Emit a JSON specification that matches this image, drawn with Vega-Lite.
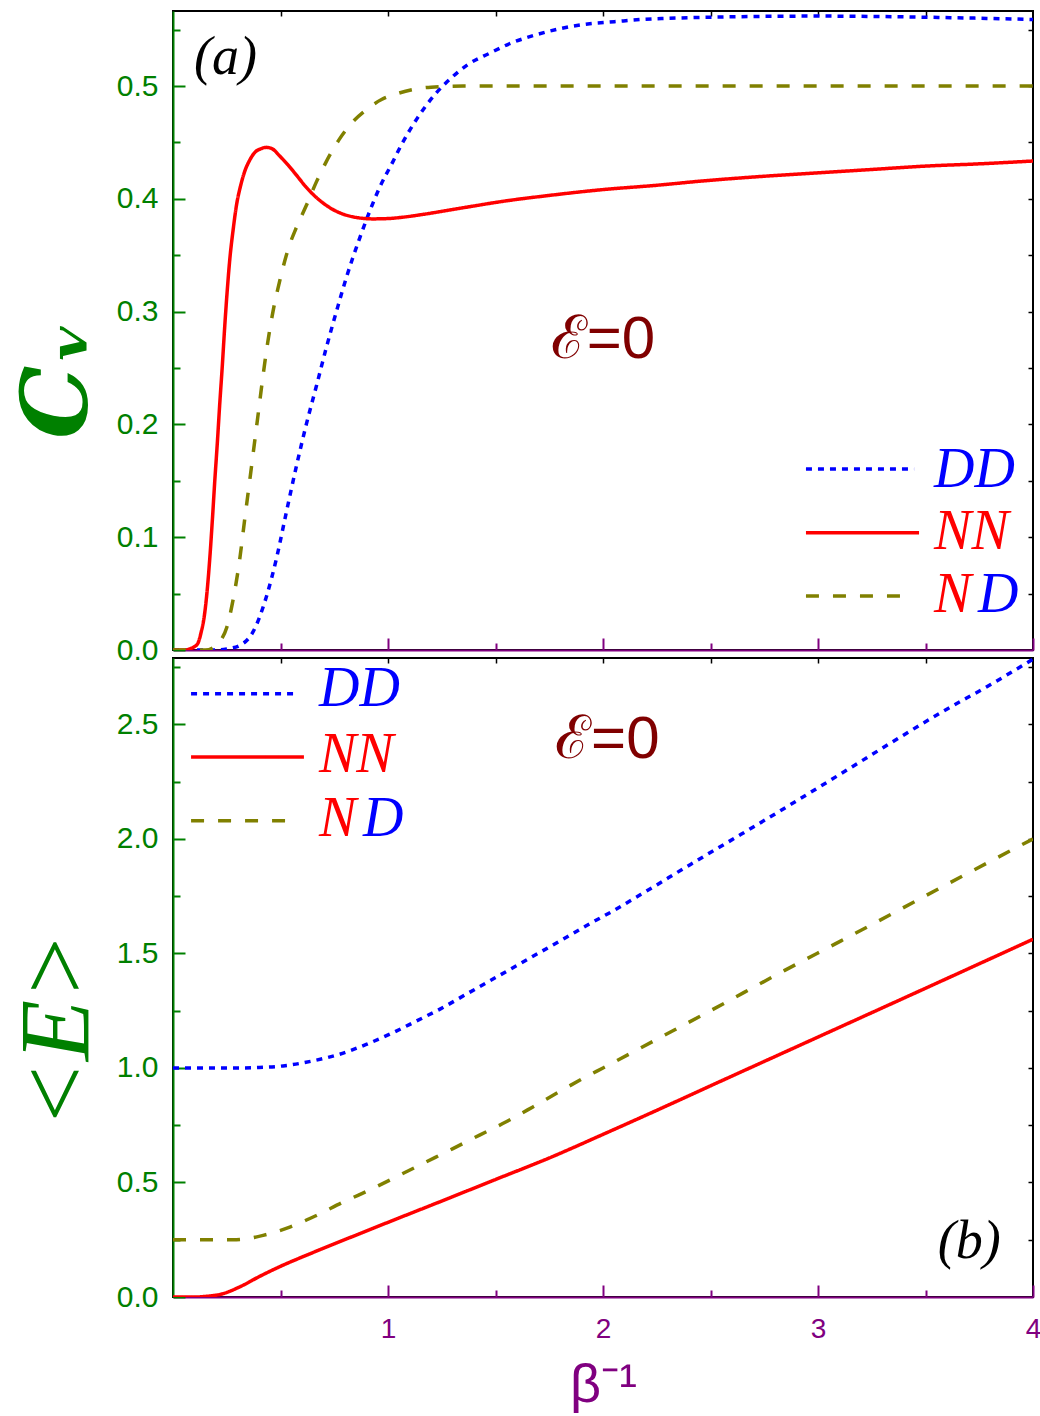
{
"$schema": "https://vega.github.io/schema/vega-lite/v6.json",
"padding": {"left": 6, "top": 9, "right": 8, "bottom": 0},
"spacing": 8,
"bounds": "flush",
"config": {"view": {"stroke": "black", "strokeWidth": 2}, "axis": {"grid": false, "labelFlush": false, "labelOverlap": false, "labelBound": false}},
"datasets": {
"cv": [
{"s":"DD","x":0,"v":0},{"s":"DD","x":0.1,"v":0},{"s":"DD","x":0.2,"v":0},{"s":"DD","x":0.25,"v":0.001},{"s":"DD","x":0.31,"v":0.004},{"s":"DD","x":0.372,"v":0.016},{"s":"DD","x":0.434,"v":0.047},{"s":"DD","x":0.481,"v":0.081},{"s":"DD","x":0.527,"v":0.122},{"s":"DD","x":0.574,"v":0.163},{"s":"DD","x":0.62,"v":0.2},{"s":"DD","x":0.667,"v":0.234},{"s":"DD","x":0.713,"v":0.268},{"s":"DD","x":0.76,"v":0.3},{"s":"DD","x":0.806,"v":0.33},{"s":"DD","x":0.868,"v":0.365},{"s":"DD","x":0.915,"v":0.389},{"s":"DD","x":0.961,"v":0.41},{"s":"DD","x":1.023,"v":0.433},{"s":"DD","x":1.06,"v":0.447},{"s":"DD","x":1.138,"v":0.472},{"s":"DD","x":1.216,"v":0.492},{"s":"DD","x":1.293,"v":0.507},{"s":"DD","x":1.371,"v":0.519},{"s":"DD","x":1.472,"v":0.529},{"s":"DD","x":1.572,"v":0.538},{"s":"DD","x":1.681,"v":0.545},{"s":"DD","x":1.805,"v":0.551},{"s":"DD","x":1.929,"v":0.555},{"s":"DD","x":2.053,"v":0.557},{"s":"DD","x":2.177,"v":0.559},{"s":"DD","x":2.301,"v":0.56},{"s":"DD","x":2.5,"v":0.561},{"s":"DD","x":3.0,"v":0.562},{"s":"DD","x":3.5,"v":0.561},{"s":"DD","x":4.0,"v":0.559},
{"s":"NN","x":0,"v":0},{"s":"NN","x":0.06,"v":0},{"s":"NN","x":0.078,"v":0.001},{"s":"NN","x":0.1,"v":0.003},{"s":"NN","x":0.116,"v":0.006},{"s":"NN","x":0.13,"v":0.015},{"s":"NN","x":0.147,"v":0.032},{"s":"NN","x":0.16,"v":0.055},{"s":"NN","x":0.171,"v":0.081},{"s":"NN","x":0.183,"v":0.115},{"s":"NN","x":0.194,"v":0.149},{"s":"NN","x":0.206,"v":0.183},{"s":"NN","x":0.217,"v":0.217},{"s":"NN","x":0.229,"v":0.251},{"s":"NN","x":0.24,"v":0.285},{"s":"NN","x":0.252,"v":0.318},{"s":"NN","x":0.264,"v":0.346},{"s":"NN","x":0.28,"v":0.373},{"s":"NN","x":0.295,"v":0.394},{"s":"NN","x":0.315,"v":0.412},{"s":"NN","x":0.333,"v":0.424},{"s":"NN","x":0.356,"v":0.434},{"s":"NN","x":0.38,"v":0.441},{"s":"NN","x":0.41,"v":0.4445},{"s":"NN","x":0.434,"v":0.4456},{"s":"NN","x":0.46,"v":0.4445},{"s":"NN","x":0.496,"v":0.438},{"s":"NN","x":0.535,"v":0.43},{"s":"NN","x":0.574,"v":0.421},{"s":"NN","x":0.612,"v":0.412},{"s":"NN","x":0.651,"v":0.404},{"s":"NN","x":0.7,"v":0.396},{"s":"NN","x":0.744,"v":0.3905},{"s":"NN","x":0.79,"v":0.3865},{"s":"NN","x":0.837,"v":0.384},{"s":"NN","x":0.93,"v":0.3822},{"s":"NN","x":1.0,"v":0.3825},{"s":"NN","x":1.06,"v":0.3835},{"s":"NN","x":1.163,"v":0.3862},{"s":"NN","x":1.3,"v":0.3905},{"s":"NN","x":1.395,"v":0.3935},{"s":"NN","x":1.525,"v":0.3975},{"s":"NN","x":1.75,"v":0.403},{"s":"NN","x":1.99,"v":0.408},{"s":"NN","x":2.25,"v":0.412},{"s":"NN","x":2.456,"v":0.4157},{"s":"NN","x":2.75,"v":0.42},{"s":"NN","x":3.0,"v":0.423},{"s":"NN","x":3.25,"v":0.426},{"s":"NN","x":3.5,"v":0.429},{"s":"NN","x":3.75,"v":0.431},{"s":"NN","x":4.0,"v":0.4335},
{"s":"ND","x":0,"v":0},{"s":"ND","x":0.15,"v":0},{"s":"ND","x":0.186,"v":0.002},{"s":"ND","x":0.22,"v":0.008},{"s":"ND","x":0.25,"v":0.02},{"s":"ND","x":0.28,"v":0.045},{"s":"ND","x":0.31,"v":0.08},{"s":"ND","x":0.333,"v":0.115},{"s":"ND","x":0.36,"v":0.155},{"s":"ND","x":0.38,"v":0.185},{"s":"ND","x":0.4,"v":0.215},{"s":"ND","x":0.42,"v":0.245},{"s":"ND","x":0.44,"v":0.272},{"s":"ND","x":0.465,"v":0.3},{"s":"ND","x":0.5,"v":0.33},{"s":"ND","x":0.535,"v":0.355},{"s":"ND","x":0.577,"v":0.376},{"s":"ND","x":0.62,"v":0.394},{"s":"ND","x":0.667,"v":0.415},{"s":"ND","x":0.713,"v":0.433},{"s":"ND","x":0.771,"v":0.452},{"s":"ND","x":0.83,"v":0.467},{"s":"ND","x":0.899,"v":0.479},{"s":"ND","x":0.97,"v":0.488},{"s":"ND","x":1.039,"v":0.493},{"s":"ND","x":1.12,"v":0.497},{"s":"ND","x":1.2,"v":0.499},{"s":"ND","x":1.35,"v":0.5},{"s":"ND","x":2.0,"v":0.5},{"s":"ND","x":3.0,"v":0.5},{"s":"ND","x":4.0,"v":0.5}
],
"en": [
{"s":"DD","x":0,"v":1.0},{"s":"DD","x":0.31,"v":1.0},{"s":"DD","x":0.4,"v":1.002},{"s":"DD","x":0.512,"v":1.009},{"s":"DD","x":0.651,"v":1.031},{"s":"DD","x":0.775,"v":1.06},{"s":"DD","x":0.899,"v":1.103},{"s":"DD","x":1.023,"v":1.154},{"s":"DD","x":1.132,"v":1.205},{"s":"DD","x":1.24,"v":1.256},{"s":"DD","x":1.364,"v":1.322},{"s":"DD","x":1.473,"v":1.38},{"s":"DD","x":1.597,"v":1.446},{"s":"DD","x":1.705,"v":1.504},{"s":"DD","x":1.814,"v":1.562},{"s":"DD","x":1.922,"v":1.621},{"s":"DD","x":2.047,"v":1.686},{"s":"DD","x":2.177,"v":1.758},{"s":"DD","x":2.409,"v":1.89},{"s":"DD","x":2.642,"v":2.02},{"s":"DD","x":2.874,"v":2.151},{"s":"DD","x":3.107,"v":2.285},{"s":"DD","x":3.34,"v":2.42},{"s":"DD","x":3.572,"v":2.552},{"s":"DD","x":3.805,"v":2.675},{"s":"DD","x":4.0,"v":2.785},
{"s":"NN","x":0,"v":0},{"s":"NN","x":0.1,"v":0},{"s":"NN","x":0.155,"v":0.003},{"s":"NN","x":0.233,"v":0.0146},{"s":"NN","x":0.31,"v":0.044},{"s":"NN","x":0.403,"v":0.09},{"s":"NN","x":0.5,"v":0.134},{"s":"NN","x":0.625,"v":0.184},{"s":"NN","x":0.75,"v":0.232},{"s":"NN","x":0.875,"v":0.279},{"s":"NN","x":1.0,"v":0.326},{"s":"NN","x":1.25,"v":0.419},{"s":"NN","x":1.5,"v":0.513},{"s":"NN","x":1.75,"v":0.607},{"s":"NN","x":2.0,"v":0.71},{"s":"NN","x":2.25,"v":0.815},{"s":"NN","x":2.5,"v":0.922},{"s":"NN","x":3.0,"v":1.135},{"s":"NN","x":3.5,"v":1.348},{"s":"NN","x":4.0,"v":1.562},
{"s":"ND","x":0,"v":0.25},{"s":"ND","x":0.295,"v":0.25},{"s":"ND","x":0.35,"v":0.255},{"s":"ND","x":0.419,"v":0.269},{"s":"ND","x":0.543,"v":0.305},{"s":"ND","x":0.667,"v":0.356},{"s":"ND","x":0.791,"v":0.414},{"s":"ND","x":0.93,"v":0.474},{"s":"ND","x":1.054,"v":0.532},{"s":"ND","x":1.178,"v":0.59},{"s":"ND","x":1.302,"v":0.648},{"s":"ND","x":1.426,"v":0.707},{"s":"ND","x":1.55,"v":0.765},{"s":"ND","x":1.674,"v":0.83},{"s":"ND","x":1.798,"v":0.897},{"s":"ND","x":1.922,"v":0.962},{"s":"ND","x":2.0,"v":1.0},{"s":"ND","x":2.25,"v":1.125},{"s":"ND","x":2.5,"v":1.25},{"s":"ND","x":2.843,"v":1.425},{"s":"ND","x":3.107,"v":1.555},{"s":"ND","x":3.34,"v":1.671},{"s":"ND","x":3.572,"v":1.788},{"s":"ND","x":3.805,"v":1.904},{"s":"ND","x":4.0,"v":2.0}
],
"legTop": [
{"s":"DD","x":2.944,"x2":3.447,"v":0.1605},
{"s":"NN","x":2.944,"x2":3.47,"v":0.104},
{"s":"ND","x":2.944,"x2":3.395,"v":0.0479}
],
"legTopTxt": [
{"t":"DD","k":"D","x":3.54,"v":0.16},
{"t":"NN","k":"N","x":3.54,"v":0.105},
{"t":"N","k":"N","x":3.54,"v":0.0488},
{"t":"D","k":"D","x":3.744,"v":0.0488}
],
"legBot": [
{"s":"DD","x":0.084,"x2":0.586,"v":2.634},
{"s":"NN","x":0.084,"x2":0.609,"v":2.358},
{"s":"ND","x":0.084,"x2":0.535,"v":2.079}
],
"legBotTxt": [
{"t":"DD","k":"D","x":0.679,"v":2.655},
{"t":"NN","k":"N","x":0.679,"v":2.367},
{"t":"N","k":"N","x":0.679,"v":2.085},
{"t":"D","k":"D","x":0.884,"v":2.085}
],
"topNotes": [
{"t":"(a)","x":0.098,"v":0.525}
],
"topEps": [
{"t":"ℰ=0","x":2.0,"v":0.275}
],
"botNotes": [
{"t":"(b)","x":3.85,"v":0.24}
],
"botEps": [
{"t":"ℰ=0","x":2.02,"v":2.43}
]
},
"vconcat": [
{
"width": 860, "height": 639,
"resolve": {"axis": {"x": "independent", "y": "independent"}},
"layer": [
{
"data": {"name": "cv"},
"mark": {"type": "line", "strokeWidth": 3.5, "interpolate": "monotone", "clip": true},
"encoding": {
"x": {"field": "x", "type": "quantitative", "scale": {"domain": [0, 4], "nice": false, "zero": false},
 "axis": {"orient": "bottom", "values": [0.5,1,1.5,2,2.5,3,3.5,4], "labels": false, "title": null, "domainColor": "#800080", "domainWidth": 2, "tickColor": "#800080", "tickWidth": 2,
  "tickSize": {"condition": {"test": "datum.value % 1 === 0", "value": -12}, "value": -7}}},
"y": {"field": "v", "type": "quantitative", "scale": {"domain": [0, 0.5665], "nice": false},
 "axis": {"orient": "left", "values": [0,0.05,0.1,0.15,0.2,0.25,0.3,0.35,0.4,0.45,0.5,0.55],
  "labelExpr": "abs(datum.value*10 - round(datum.value*10)) < 0.001 ? format(datum.value, '.1f') : ''",
  "tickSize": {"condition": {"test": "abs(datum.value*10 - round(datum.value*10)) < 0.001", "value": -12}, "value": -7},
  "labelPadding": 27, "labelFont": "Liberation Sans", "labelFontSize": 30, "labelColor": "#008000",
  "domainColor": "#008000", "domainWidth": 2, "tickColor": "#008000", "tickWidth": 2,
  "title": "Cᵥ", "titleFont": "DejaVu Serif", "titleFontStyle": "italic", "titleFontWeight": "bold", "titleFontSize": 92, "titleColor": "#008000",
  "titleAngle": 270, "titleAlign": "center", "titleBaseline": "middle", "titleX": -115, "titleY": 368}},
"color": {"field": "s", "type": "nominal", "scale": {"domain": ["DD","NN","ND","D","N"], "range": ["#0000ff","#ff0000","#808000","#0000ff","#ff0000"]}, "legend": null},
"strokeDash": {"field": "s", "type": "nominal", "scale": {"domain": ["DD","NN","ND"], "range": [[6,6],[1,0],[13,14]]}, "legend": null}
}
},
{
"data": {"name": "legTop"},
"mark": {"type": "point", "opacity": 0},
"encoding": {
"x": {"field": "x", "type": "quantitative", "axis": {"orient": "top", "values": [0.5,1,1.5,2,2.5,3,3.5], "labels": false, "title": null, "domain": false, "tickColor": "black", "tickWidth": 1.5, "tickSize": -5}},
"y": {"field": "v", "type": "quantitative", "axis": {"orient": "right", "values": [0.05,0.1,0.15,0.2,0.25,0.3,0.35,0.4,0.45,0.5,0.55], "labels": false, "title": null, "domain": false, "tickColor": "black", "tickWidth": 1.5, "tickSize": -5}}
}
},
{
"data": {"name": "legTop"},
"mark": {"type": "rule", "strokeWidth": 3.5},
"encoding": {
"x": {"field": "x", "type": "quantitative", "axis": null},
"x2": {"field": "x2"},
"y": {"field": "v", "type": "quantitative", "axis": null},
"color": {"field": "s", "type": "nominal", "legend": null},
"strokeDash": {"field": "s", "type": "nominal", "legend": null}
}
},
{
"data": {"name": "legTopTxt"},
"mark": {"type": "text", "font": "Liberation Serif", "fontStyle": "italic", "fontSize": 56, "align": "left", "baseline": "middle"},
"encoding": {
"x": {"field": "x", "type": "quantitative", "axis": null},
"y": {"field": "v", "type": "quantitative", "axis": null},
"text": {"field": "t"},
"color": {"field": "k", "type": "nominal", "legend": null}
}
},
{
"data": {"name": "topNotes"},
"mark": {"type": "text", "font": "Liberation Serif", "fontStyle": "italic", "fontSize": 54, "align": "left", "baseline": "middle", "color": "black"},
"encoding": {
"x": {"field": "x", "type": "quantitative", "axis": null},
"y": {"field": "v", "type": "quantitative", "axis": null},
"text": {"field": "t"}
}
},
{
"data": {"name": "topEps"},
"mark": {"type": "text", "font": "Liberation Sans", "fontSize": 60, "align": "center", "baseline": "middle", "color": "#800000"},
"encoding": {
"x": {"field": "x", "type": "quantitative", "axis": null},
"y": {"field": "v", "type": "quantitative", "axis": null},
"text": {"field": "t"}
}
}
]
},
{
"width": 860, "height": 639,
"resolve": {"axis": {"x": "independent", "y": "independent"}},
"layer": [
{
"data": {"name": "en"},
"mark": {"type": "line", "strokeWidth": 3.5, "interpolate": "monotone", "clip": true},
"encoding": {
"x": {"field": "x", "type": "quantitative", "scale": {"domain": [0, 4], "nice": false, "zero": false},
 "axis": {"orient": "bottom", "values": [0.5,1,1.5,2,2.5,3,3.5,4],
  "labelExpr": "datum.value % 1 === 0 ? format(datum.value, 'd') : ''",
  "tickSize": {"condition": {"test": "datum.value % 1 === 0", "value": -12}, "value": -7},
  "labelPadding": 30, "labelFont": "Liberation Sans", "labelFontSize": 28, "labelColor": "#800080",
  "domainColor": "#800080", "domainWidth": 2, "tickColor": "#800080", "tickWidth": 2,
  "title": "β⁻¹", "titleFont": "Liberation Sans", "titleFontWeight": "normal", "titleFontSize": 54, "titleColor": "#800080", "titlePadding": 10}},
"y": {"field": "v", "type": "quantitative", "scale": {"domain": [0, 2.79], "nice": false},
 "axis": {"orient": "left", "values": [0,0.25,0.5,0.75,1,1.25,1.5,1.75,2,2.25,2.5,2.75],
  "labelExpr": "abs(datum.value*2 - round(datum.value*2)) < 0.001 ? format(datum.value, '.1f') : ''",
  "tickSize": {"condition": {"test": "abs(datum.value*2 - round(datum.value*2)) < 0.001", "value": -12}, "value": -7},
  "labelPadding": 27, "labelFont": "Liberation Sans", "labelFontSize": 30, "labelColor": "#008000",
  "domainColor": "#008000", "domainWidth": 2, "tickColor": "#008000", "tickWidth": 2,
  "title": "<E>", "titleFont": "Liberation Serif", "titleFontStyle": "italic", "titleFontWeight": "normal", "titleFontSize": 100, "titleColor": "#008000",
  "titleAngle": 270, "titleAlign": "center", "titleBaseline": "middle", "titleX": -116, "titleY": 372}},
"color": {"field": "s", "type": "nominal", "scale": {"domain": ["DD","NN","ND","D","N"], "range": ["#0000ff","#ff0000","#808000","#0000ff","#ff0000"]}, "legend": null},
"strokeDash": {"field": "s", "type": "nominal", "scale": {"domain": ["DD","NN","ND"], "range": [[6,6],[1,0],[13,14]]}, "legend": null}
}
},
{
"data": {"name": "legBot"},
"mark": {"type": "point", "opacity": 0},
"encoding": {
"x": {"field": "x", "type": "quantitative", "axis": {"orient": "top", "values": [0.5,1,1.5,2,2.5,3,3.5], "labels": false, "title": null, "domain": false, "tickColor": "black", "tickWidth": 1.5, "tickSize": -5}},
"y": {"field": "v", "type": "quantitative", "axis": {"orient": "right", "values": [0.25,0.5,0.75,1,1.25,1.5,1.75,2,2.25,2.5,2.75], "labels": false, "title": null, "domain": false, "tickColor": "black", "tickWidth": 1.5, "tickSize": -5}}
}
},
{
"data": {"name": "legBot"},
"mark": {"type": "rule", "strokeWidth": 3.5},
"encoding": {
"x": {"field": "x", "type": "quantitative", "axis": null},
"x2": {"field": "x2"},
"y": {"field": "v", "type": "quantitative", "axis": null},
"color": {"field": "s", "type": "nominal", "legend": null},
"strokeDash": {"field": "s", "type": "nominal", "legend": null}
}
},
{
"data": {"name": "legBotTxt"},
"mark": {"type": "text", "font": "Liberation Serif", "fontStyle": "italic", "fontSize": 56, "align": "left", "baseline": "middle"},
"encoding": {
"x": {"field": "x", "type": "quantitative", "axis": null},
"y": {"field": "v", "type": "quantitative", "axis": null},
"text": {"field": "t"},
"color": {"field": "k", "type": "nominal", "legend": null}
}
},
{
"data": {"name": "botNotes"},
"mark": {"type": "text", "font": "Liberation Serif", "fontStyle": "italic", "fontSize": 54, "align": "right", "baseline": "middle", "color": "black"},
"encoding": {
"x": {"field": "x", "type": "quantitative", "axis": null},
"y": {"field": "v", "type": "quantitative", "axis": null},
"text": {"field": "t"}
}
},
{
"data": {"name": "botEps"},
"mark": {"type": "text", "font": "Liberation Sans", "fontSize": 60, "align": "center", "baseline": "middle", "color": "#800000"},
"encoding": {
"x": {"field": "x", "type": "quantitative", "axis": null},
"y": {"field": "v", "type": "quantitative", "axis": null},
"text": {"field": "t"}
}
}
]
}
]
}
